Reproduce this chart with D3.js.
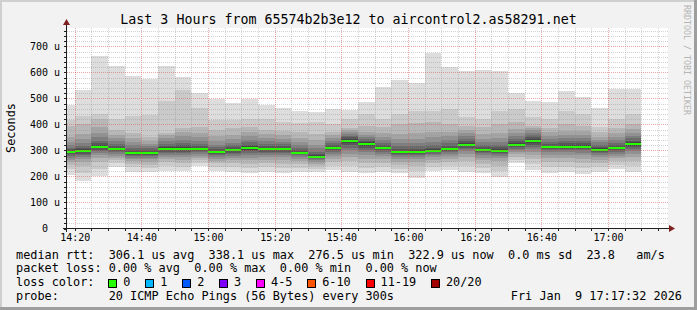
<!DOCTYPE html>
<html>
<head>
<meta charset="utf-8">
<script src="https://cdn.jsdelivr.net/npm/d3@7"></script>
<style>
body { margin: 0; background: #f2f2f2; }
text { font-family: "DejaVu Sans Mono", monospace; white-space: pre; }
</style>
</head>
<body>
<div id="chart"></div>
<script>
// graph window and first 5 min step
var startTime = new Date(2026, 0, 9, 14, 17, 32);
var endTime = new Date(2026, 0, 9, 17, 17, 32);
var firstStep = new Date(2026, 0, 9, 14, 15, 0);

// median rtt per 5 min step (us)
var medians = [294, 299, 314, 306, 291, 291, 306, 306, 306, 294, 301, 310, 306, 306, 291, 276, 310, 337,
  324, 310, 294, 294, 299, 306, 322, 301, 299, 322, 337, 314, 314, 314, 303, 310, 324];

// 20 sorted pings per step (us)
var pings = [
  [205,228,244,256,265,273,280,285,290,293,295,299,304,311,320,333,350,394,419,474],
  [182,215,240,255,266,275,282,288,294,298,300,304,310,318,330,345,365,401,432,532],
  [201,230,255,270,282,290,297,303,309,313,315,320,327,337,350,367,390,420,442,664],
  [236,250,262,272,280,287,293,298,302,305,307,311,317,325,335,347,360,378,420,624],
  [218,235,248,258,266,273,279,284,288,290,292,296,302,310,320,333,348,368,432,586],
  [218,232,246,257,266,273,279,284,288,290,292,296,301,308,316,326,338,353,438,574],
  [220,240,255,266,275,283,290,296,301,305,307,312,318,326,336,348,360,368,490,624],
  [220,238,252,264,274,282,289,295,300,304,308,313,320,330,342,355,370,387,532,582],
  [240,252,263,272,280,287,293,298,302,305,307,311,317,325,336,350,368,391,465,520],
  [223,238,250,260,268,275,281,286,290,293,295,299,305,313,323,336,355,380,417,499],
  [218,235,250,262,271,279,286,292,297,300,302,306,312,320,330,343,360,385,417,481],
  [213,232,248,262,273,282,290,297,303,308,312,317,323,331,341,354,370,390,420,499],
  [218,236,252,265,275,283,290,296,301,305,307,311,317,325,335,347,362,380,420,474],
  [212,232,249,263,274,283,290,296,301,305,307,311,317,324,333,344,358,375,410,465],
  [218,234,248,259,268,275,281,286,289,290,292,296,302,310,320,332,347,370,405,451],
  [218,230,240,249,256,262,267,271,274,275,277,281,287,296,308,323,342,365,410,447],
  [226,242,256,268,278,287,295,301,306,309,311,315,321,329,338,349,360,370,400,460],
  [218,240,258,274,288,300,311,320,328,335,339,344,350,357,364,371,378,385,420,455],
  [212,234,253,269,282,293,302,310,317,322,326,331,337,344,352,361,373,395,440,486],
  [218,236,252,266,278,288,296,302,307,309,311,315,321,329,339,351,366,390,420,544],
  [214,230,244,256,266,274,281,287,291,293,295,299,306,316,328,343,362,400,440,571],
  [196,220,240,255,266,275,282,287,291,293,295,300,307,317,330,346,366,405,450,561],
  [222,238,252,264,274,282,288,293,297,298,300,304,311,321,334,350,370,410,450,676],
  [226,242,256,268,278,286,293,298,302,305,307,311,318,328,340,355,372,400,460,620],
  [218,240,258,274,287,297,305,311,316,320,324,329,336,345,355,367,380,395,430,604],
  [212,232,248,262,273,282,289,294,298,300,302,306,313,322,333,346,362,390,420,609],
  [199,222,242,258,270,279,287,292,296,298,300,305,312,322,334,348,366,400,450,605],
  [250,264,276,286,294,301,307,312,317,320,324,329,336,345,356,369,384,410,460,520],
  [226,248,266,282,295,306,315,323,330,335,339,344,350,358,367,377,386,395,430,490],
  [212,235,254,270,283,293,301,307,311,313,315,319,326,334,344,356,370,385,420,485],
  [218,238,256,271,283,293,301,307,311,313,315,320,327,336,347,360,376,400,450,530],
  [208,232,252,268,281,291,300,306,311,313,315,320,327,336,347,360,376,395,440,504],
  [218,236,251,264,274,283,290,296,300,302,304,308,314,322,331,341,353,370,390,463],
  [228,244,258,270,280,288,295,301,306,309,311,315,321,329,339,351,366,385,420,537],
  [218,240,259,275,288,299,307,314,319,322,326,331,338,347,357,369,383,400,440,537]
];

var yTicks = [0, 100, 200, 300, 400, 500, 600, 700];
var yMax = 769.2;

var lossLabels = ["0", "1", "2", "3", "4-5", "6-10", "11-19", "20/20"];
var lossColors = ["#26ff00", "#00b8ff", "#0059ff", "#7e00ff", "#ff00ff", "#ff5500", "#ff0000", "#a10000"];

var titleText = "Last 3 Hours from 65574b2b3e12 to aircontrol2.as58291.net";
var legendLines = [
  "median rtt:  306.1 us avg  338.1 us max  276.5 us min  322.9 us now  0.0 ms sd  23.8   am/s",
  "packet loss: 0.00 % avg  0.00 % max  0.00 % min  0.00 % now"
];
var probeText = "probe:       20 ICMP Echo Pings (56 Bytes) every 300s";
var dateText = "Fri Jan  9 17:17:32 2026";

drawChart();

function drawChart() {
  var W = 697, H = 310;
  var left = 66.5, right = 666.5, top = 28.5, bottom = 228.5;

  var svg = d3.select("#chart").append("svg")
    .attr("width", W).attr("height", H);

  svg.append("rect").attr("width", W).attr("height", H).attr("fill", "#f2f2f2");
  // 3d frame
  svg.append("rect").attr("x", 0).attr("y", 0).attr("width", W).attr("height", 2).attr("fill", "#cfcfcf");
  svg.append("rect").attr("x", 0).attr("y", 0).attr("width", 2).attr("height", H).attr("fill", "#cfcfcf");
  svg.append("rect").attr("x", W - 3).attr("y", 0).attr("width", 3).attr("height", H).attr("fill", "#9e9e9e");
  svg.append("rect").attr("x", 0).attr("y", H - 3).attr("width", W).attr("height", 3).attr("fill", "#9e9e9e");

  var x = d3.scaleTime().domain([startTime, endTime]).range([left, right]);
  var y = d3.scaleLinear().domain([0, yMax]).range([bottom, top]);

  svg.append("rect")
    .attr("x", 67).attr("y", 28)
    .attr("width", 601).attr("height", 200.5)
    .attr("fill", "#ffffff");

  // smoke
  var g = svg.append("g").attr("shape-rendering", "crispEdges");
  var half = 10;
  pings.forEach(function(p, i) {
    var t0 = d3.timeMinute.offset(firstStep, i * 5);
    var t1 = d3.timeMinute.offset(firstStep, i * 5 + 5);
    var x0 = Math.max(x(t0), 67), x1 = x(t1);
    for (var ibot = 1; ibot <= half; ibot++) {
      var itop = 20 - ibot + 1;
      var c = Math.floor(190 / half * (half - ibot)) + 50;
      g.append("rect")
        .attr("x", x0).attr("width", x1 - x0)
        .attr("y", y(p[itop - 1]))
        .attr("height", y(p[ibot - 1]) - y(p[itop - 1]))
        .attr("fill", d3.rgb(c, c, c));
    }
    // median
    g.append("rect")
      .attr("x", x0).attr("width", x1 - x0)
      .attr("y", y(medians[i]) - 1)
      .attr("height", 2)
      .attr("fill", lossColors[0]);
  });

  // grid
  var grid = svg.append("g");
  var allX = d3.timeMinute.range(startTime, endTime).filter(t => t.getMinutes() % 5 === 0);
  var minorX = allX.filter(t => t.getMinutes() % 20 !== 0);
  var majorX = allX.filter(t => t.getMinutes() % 20 === 0);
  var minorY = d3.range(20, yMax, 20).filter(v => v % 100 !== 0);
  var px = d => Math.round(x(d)) + 0.5;
  var py = d => Math.round(y(d)) + 0.5;

  grid.selectAll("line.mx").data(minorX).enter()
    .append("line").attr("class", "mx")
    .attr("x1", px).attr("x2", px)
    .attr("y1", 28).attr("y2", 228)
    .attr("stroke", "rgba(143,143,143,0.4)").attr("stroke-dasharray", "1,1");
  grid.selectAll("line.my").data(minorY).enter()
    .append("line").attr("class", "my")
    .attr("x1", 67).attr("x2", 668)
    .attr("y1", py).attr("y2", py)
    .attr("stroke", "rgba(143,143,143,0.4)").attr("stroke-dasharray", "1,1");
  grid.selectAll("line.Mx").data(majorX).enter()
    .append("line").attr("class", "Mx")
    .attr("x1", px).attr("x2", px)
    .attr("y1", 28).attr("y2", 228)
    .attr("stroke", "rgba(222,79,79,0.5)").attr("stroke-dasharray", "1,1");
  grid.selectAll("line.My").data(yTicks.filter(v => v > 0)).enter()
    .append("line").attr("class", "My")
    .attr("x1", 67).attr("x2", 668)
    .attr("y1", py).attr("y2", py)
    .attr("stroke", "rgba(222,79,79,0.5)").attr("stroke-dasharray", "1,1");

  // ticks on the axes
  grid.selectAll("line.tx").data(allX).enter()
    .append("line").attr("class", "tx")
    .attr("x1", px).attr("x2", px)
    .attr("y1", 229).attr("y2", 231)
    .attr("stroke", "#1f1f1f");
  grid.selectAll("line.ty").data(minorY.concat(yTicks)).enter()
    .append("line").attr("class", "ty")
    .attr("x1", 64).attr("x2", 66)
    .attr("y1", py).attr("y2", py)
    .attr("stroke", "#1f1f1f");

  // axes
  svg.append("line").attr("x1", 63).attr("x2", 670).attr("y1", 228.5).attr("y2", 228.5)
    .attr("stroke", "#1f1f1f");
  svg.append("line").attr("x1", 66.5).attr("x2", 66.5).attr("y1", 232).attr("y2", 24)
    .attr("stroke", "#1f1f1f");
  svg.append("path").attr("d", "M669,225 L675,228.5 L669,232 Z").attr("fill", "#801f1f");
  svg.append("path").attr("d", "M63,25 L66.5,19 L70,25 Z").attr("fill", "#801f1f");

  // axis labels
  svg.selectAll("text.yl").data(yTicks).enter()
    .append("text").attr("class", "yl")
    .attr("x", d => d === 0 ? 48 : 60)
    .attr("y", d => y(d) + 3.6)
    .attr("text-anchor", "end")
    .attr("font-size", "10px")
    .attr("fill", "#000")
    .text(d => d === 0 ? "0" : d + " u");

  svg.selectAll("text.xl").data(majorX).enter()
    .append("text").attr("class", "xl")
    .attr("x", d => x(d) + 0.5)
    .attr("y", 240.7)
    .attr("text-anchor", "middle")
    .attr("font-size", "10px")
    .attr("fill", "#000")
    .text(d3.timeFormat("%H:%M"));

  svg.append("text")
    .attr("transform", "translate(15,128) rotate(-90)")
    .attr("text-anchor", "middle")
    .attr("font-size", "11.85px")
    .text("Seconds");

  svg.append("text")
    .attr("x", 348.5).attr("y", 24)
    .attr("text-anchor", "middle")
    .attr("font-size", "13.3px")
    .text(titleText);

  svg.append("text")
    .attr("transform", "translate(684,5) rotate(90)")
    .attr("font-size", "8.3px")
    .attr("fill", "#b4b4b4")
    .text("RRDTOOL / TOBI OETIKER");

  // legend
  var cw = 7.13;
  legendLines.forEach(function(s, i) {
    svg.append("text")
      .attr("x", 16).attr("y", 258.5 + i * 13.8)
      .attr("font-size", "11.85px")
      .text(s);
  });
  svg.append("text").attr("x", 16).attr("y", 286).attr("font-size", "11.85px").text("loss color:");
  var bx = 108.3;
  lossLabels.forEach(function(l, i) {
    svg.append("rect")
      .attr("x", Math.round(bx) + 0.5).attr("y", 279.5)
      .attr("width", 8).attr("height", 8)
      .attr("fill", lossColors[i]).attr("stroke", "#000");
    svg.append("text")
      .attr("x", bx + 15).attr("y", 286)
      .attr("font-size", "11.85px")
      .text(l);
    bx += 15 + l.length * cw + 14.8;
  });
  svg.append("text").attr("x", 16).attr("y", 299.8).attr("font-size", "11.85px").text(probeText);
  svg.append("text").attr("x", 682).attr("y", 299.8).attr("text-anchor", "end")
    .attr("font-size", "11.85px").text(dateText);
}
</script>
</body>
</html>
